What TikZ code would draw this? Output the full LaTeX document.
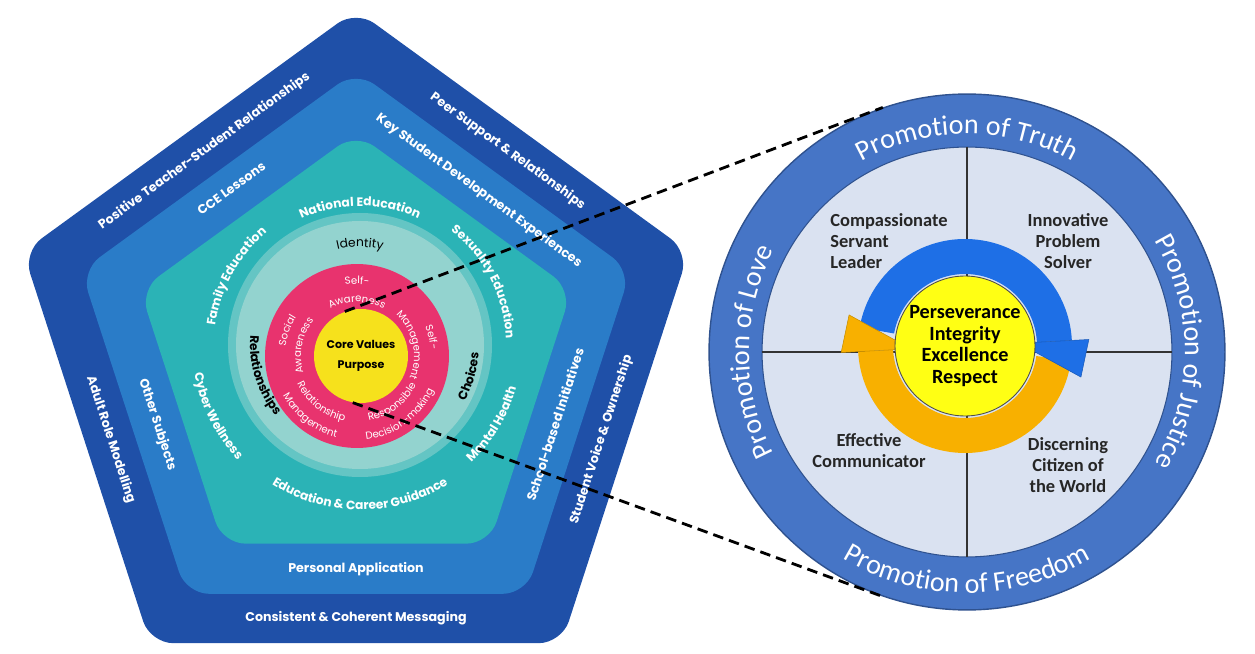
\documentclass[tikz,border=0pt]{standalone}
\usepackage{fontspec}
\usetikzlibrary{calc}
\usetikzlibrary{decorations.text}
\newfontfamily\pentfont{Poppins}
\newfontfamily\calfont{Carlito}
\definecolor{pentdark}{HTML}{1F50A8}
\definecolor{pentmid}{HTML}{2A7CC8}
\definecolor{pentteal}{HTML}{2BB3B6}
\definecolor{pentlight}{HTML}{93D3CF}
\definecolor{pentpink}{HTML}{E8336E}
\definecolor{pentyellow}{HTML}{F6E11C}
\definecolor{ringblue}{HTML}{4675C6}
\definecolor{ringedge}{HTML}{2F528F}
\definecolor{ringfill}{HTML}{DAE2F1}
\definecolor{cycblue}{HTML}{1E6FE6}
\definecolor{cycorange}{HTML}{F8B000}
\definecolor{cycyellow}{HTML}{FFFF14}
\newcommand\tealfont{\pentfont\bfseries\fontsize{7}{8}\selectfont}
\newcommand\lightfont{\pentfont\bfseries\fontsize{7}{8}\selectfont}
\newcommand\idfont{\pentfont\fontsize{7}{8}\selectfont}
\newcommand\pinkfont{\pentfont\fontsize{5.8}{6}\selectfont}
\newcommand\promofont{\calfont\fontsize{16}{18}\selectfont}
\tikzset{
  pentlayer/.style={fill=#1, rounded corners=13pt},
  edgelabel/.style={text=white, font=\pentfont\bfseries\fontsize{7.2}{9}\selectfont, inner sep=0pt},
  arctext/.style 2 args={decorate, decoration={text along path, text align=center, text color=#1, text={#2}}},
  quadlabel/.style={font=\calfont\bfseries\fontsize{10.5}{12}\selectfont, text=black!85, align=center, inner sep=0pt},
  linkline/.style={draw=black, line width=1.6pt, dash pattern=on 6pt off 3.5pt},
}
\begin{document}
\begin{tikzpicture}[x=0.02cm, y=0.02cm]
  \useasboundingbox (0,0) rectangle (1255,653);
  \coordinate (P) at (356,293);
  \coordinate (C) at (360,308);
  \coordinate (K) at (357,297);
  \coordinate (O) at (967,301);
  \coordinate (Q) at (965,307);

  % pentagon layers
  \foreach \rad/\col in {350/pentdark, 289/pentmid, 227/pentteal}
    \fill[pentlayer=\col] ($(P)+(90:\rad)$) -- ($(P)+(162:\rad)$) -- ($(P)+(234:\rad)$) -- ($(P)+(306:\rad)$) -- ($(P)+(18:\rad)$) -- cycle;
  \fill[pentlight!55!pentteal] (C) circle (132);
  \fill[pentlight] (C) circle (124);
  \node[circle, fill=pentpink, minimum size=3.68cm, inner sep=0pt] (pink) at (K) {};
  \node[circle, fill=pentyellow, minimum size=1.88cm, inner sep=0pt, align=center, font=\pentfont\bfseries\fontsize{6.3}{11}\selectfont] (core) at (361,297) {Core Values\\Purpose};

  % outer and middle bands
  \node[edgelabel, rotate=36] (ptsr) at ($(P)+(126:258)$) {Positive Teacher-Student Relationships};
  \node[edgelabel, rotate=-36] (psr) at ($(P)+(54:258)$) {Peer Support \& Relationships};
  \node[edgelabel, rotate=-72] (arm) at ($(P)+(198:258)$) {Adult Role Modelling};
  \node[edgelabel, rotate=72] (svo) at ($(P)+(-18:258)$) {Student Voice \& Ownership};
  \node[edgelabel] (ccm) at ($(P)+(270:258)$) {Consistent \& Coherent Messaging};
  \node[edgelabel, rotate=36] (cce) at ($(P)+(126:212)$) {CCE Lessons};
  \node[edgelabel, rotate=-36] (ksde) at ($(P)+(54:209)$) {Key Student Development Experiences};
  \node[edgelabel, rotate=-72] (os) at ($(P)+(198:209)$) {Other Subjects};
  \node[edgelabel, rotate=72] (sbi) at ($(P)+(-18:209)$) {School-based Initiatives};
  \node[edgelabel] (pa) at ($(P)+(270:209)$) {Personal Application};

  % teal band
  \path[arctext={white}{|\tealfont|Family Education}] ($(C)+(180:146)$) arc (180:122:146);
  \path[arctext={white}{|\tealfont|National Education}] ($(C)+(120:139)$) arc (120:60:139);
  \path[arctext={white}{|\tealfont|Sexuality Education}] ($(C)+(60:146)$) arc (60:-6:146);
  \path[arctext={white}{|\tealfont|Cyber Wellness}] ($(C)+(181:168)$) arc (181:232:168);
  \path[arctext={white}{|\tealfont|Education {\&} Career Guidance}] ($(C)+(230:165)$) arc (230:310:165);
  \path[arctext={white}{|\tealfont|Mental Health}] ($(C)+(-54:162)$) arc (-54:-8:162);

  % light circle
  \path[arctext={black}{|\idfont|Identity}] ($(C)+(114:98)$) arc (114:66:98);
  \path[arctext={black}{|\lightfont|Relationships}] ($(C)+(160:110)$) arc (160:235:110);
  \path[arctext={black}{|\lightfont|Choices}] ($(C)+(-42:119)$) arc (-42:10:119);

  % pink ring
  \path[arctext={white}{|\pinkfont|Self-}] ($(K)+(105:72)$) arc (105:75:72);
  \path[arctext={white}{|\pinkfont|Awareness}] ($(K)+(124:54)$) arc (124:56:54);
  \path[arctext={white}{|\pinkfont|Self-}] ($(K)+(30:74)$) arc (30:-2:74);
  \path[arctext={white}{|\pinkfont|Management}] ($(K)+(52:57)$) arc (52:-28:57);
  \path[arctext={white}{|\pinkfont|Social}] ($(K)+(182:72)$) arc (182:138:72);
  \path[arctext={white}{|\pinkfont|Awareness}] ($(K)+(208:56)$) arc (208:130:56);
  \path[arctext={white}{|\pinkfont|Relationship}] ($(K)+(198:66)$) arc (198:266:66);
  \path[arctext={white}{|\pinkfont|Management}] ($(K)+(196:84)$) arc (196:268:84);
  \path[arctext={white}{|\pinkfont|Responsible}] ($(K)+(276:66)$) arc (276:338:66);
  \path[arctext={white}{|\pinkfont|Decision-making}] ($(K)+(270:84)$) arc (270:342:84);

  % right circle
  \node[circle, draw=ringedge, line width=0.8pt, fill=ringblue, minimum size=10.32cm, inner sep=0pt] (promo) at (O) {};
  \node[circle, draw=ringedge, line width=0.6pt, fill=ringfill, minimum size=8.2cm, inner sep=0pt] (values) at (O) {};
  \draw[black!80, line width=0.7pt] (values.north) -- (values.south);
  \draw[black!80, line width=0.7pt] (values.west) -- (values.east);

  \path[arctext={white}{|\promofont|Promotion of Truth}] ($(O)+(125:218)$) arc (125:55:218);
  \path[arctext={white}{|\promofont|Promotion of Justice}] ($(O)+(42:218)$) arc (42:-42:218);
  \path[arctext={white}{|\promofont|Promotion of Freedom}] ($(O)+(232:241)$) arc (232:308:241);
  \path[arctext={white}{|\promofont|Promotion of Love}] ($(O)+(222:218)$) arc (222:138:218);

  % cycle arrows
  \fill[cycblue] ($(Q)+(170:107)$) arc (170:3:107) -- ($(Q)+(3:72)$) arc (3:170:72) -- cycle;
  \fill[cycorange] ($(Q)+(-8:107)$) arc (352:183:107) -- ($(Q)+(183:72)$) arc (183:352:72) -- cycle;
  \fill[cycblue, draw=cycblue!80!black, line width=0.3pt] ($(Q)+(3:54)$) -- ($(Q)+(3:124)$) -- ($(Q)+(-15:120)$) -- cycle;
  \fill[cycorange, draw=cycorange!80!black, line width=0.3pt] ($(Q)+(183:54)$) -- ($(Q)+(183:124)$) -- ($(Q)+(165:120)$) -- cycle;
  \node[circle, fill=cycyellow, draw=black!70, line width=0.5pt, minimum size=2.8cm, inner sep=0pt, align=center, font=\calfont\bfseries\fontsize{11.5}{12.3}\selectfont] (virtue) at (Q) {Perseverance\\Integrity\\Excellence\\Respect};

  \node[quadlabel, anchor=west, align=left] (csl) at (830,412) {Compassionate\\Servant\\Leader};
  \node[quadlabel] (ips) at (1068,412) {Innovative\\Problem\\Solver};
  \node[quadlabel] (ec) at (869,202) {Effective\\Communicator};
  \node[quadlabel] (dcw) at (1068,188) {Discerning\\Citizen of\\the World};

  % links
  \draw[linkline] (core.110) -- (promo.109);
  \draw[linkline] (core.-100) -- (promo.-109);
\end{tikzpicture}
\end{document}
